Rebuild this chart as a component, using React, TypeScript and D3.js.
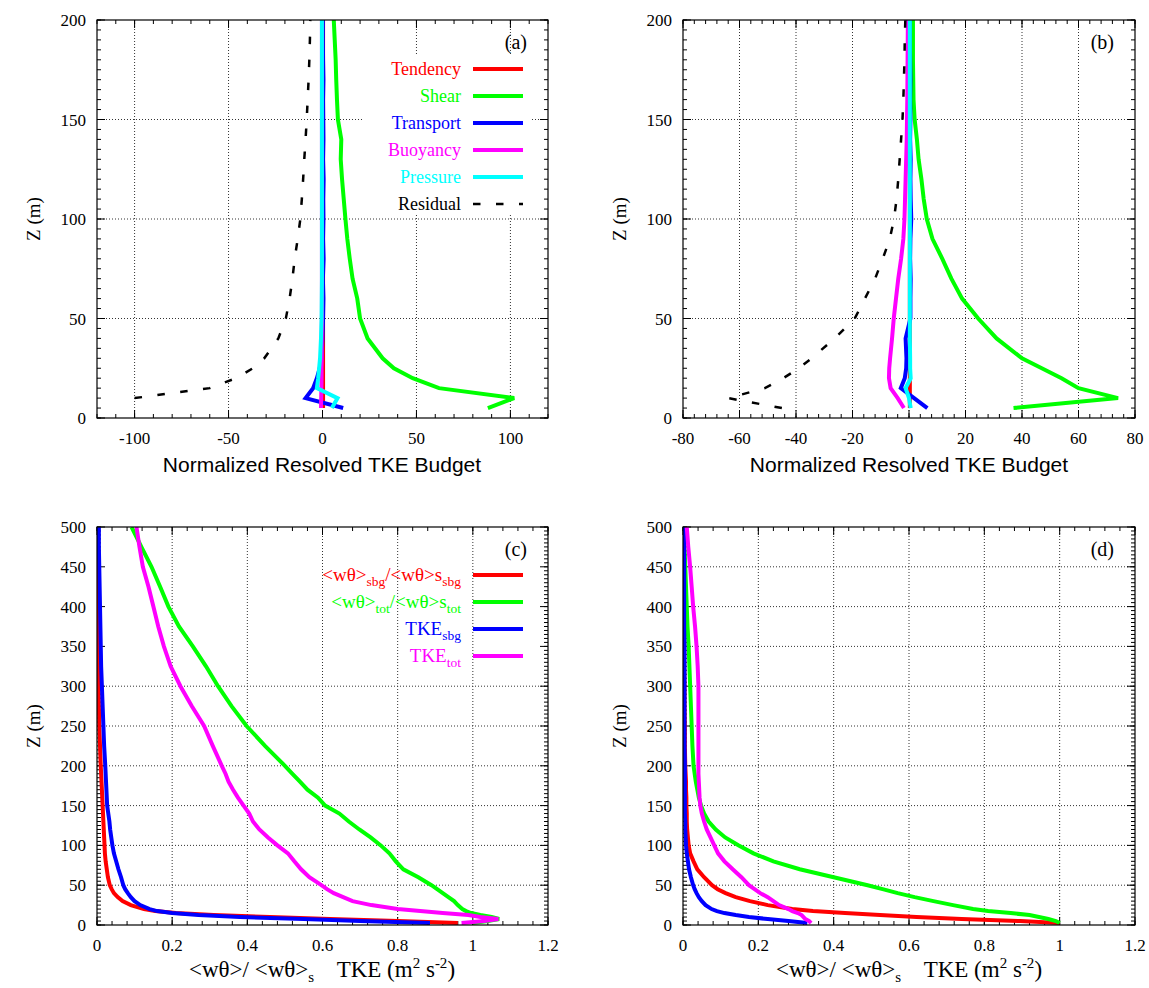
import React from 'react';
import * as d3 from 'd3';

// ---------- Panels (a) & (b): normalized resolved TKE budget ----------
const zAB = [5, 10, 15, 20, 25, 30, 40, 50, 60, 70, 80, 90, 100, 110, 120, 130, 140, 150, 160, 170, 180, 190, 200];

const tendencyA = [0.3, 0.3, 0.3, 0.3, 0.3, 0.3, 0.3, 0.3, 0.3, 0.3, 0.3, 0.3, 0.3, 0.3, 0.3, 0.3, 0.3, 0.3, 0.3, 0.3, 0.3, 0.3, 0.3];
const shearA = [88, 102, 62, 48, 38, 32, 24, 20, 18.5, 16, 14.5, 13.2, 12.2, 11.3, 10.4, 9.7, 10.0, 8.2, 7.7, 7.3, 7.0, 6.5, 6.0];
const transportA = [11, -9, -5, -3, -1.5, -0.5, 0, 0.3, 0.5, 0.2, 0.6, 0.3, 0.5, 0.4, 0.6, 0.3, 0.5, 0.4, 0.3, 0.5, 0.3, 0.2, 0.2];
const buoyancyA = [-0.8, -0.7, -0.6, -0.5, -0.5, -0.4, -0.4, -0.3, -0.3, -0.3, -0.3, -0.3, -0.3, -0.3, -0.3, -0.3, -0.3, -0.3, -0.3, -0.3, -0.3, -0.3, -0.3];
const pressureA = [5, 8, -3, -2.3, -1.8, -1.3, -0.8, -0.5, -0.4, -0.3, -0.3, -0.3, -0.3, -0.3, -0.3, -0.3, -0.3, -0.3, -0.3, -0.3, -0.3, -0.3, -0.3];
const residualA = [NaN, -100, -60, -46, -37, -31, -23.5, -19.5, -17.5, -16, -14.8, -13.2, -11.8, -11, -10.3, -9.7, -9, -8.4, -7.9, -7.4, -7, -6.7, -6.5];

const tendencyB = [0.3, 0.3, 0.3, 0.3, 0.3, 0.3, 0.3, 0.3, 0.3, 0.3, 0.3, 0.3, 0.3, 0.3, 0.3, 0.3, 0.3, 0.3, 0.3, 0.3, 0.3, 0.3, 0.3];
const shearB = [37, 74, 60, 54, 47, 40, 31, 24.5, 18.8, 15, 11.8, 8.3, 6.3, 5.2, 4.4, 3.4, 2.8, 2.0, 1.6, 1.5, 1.4, 1.4, 1.4];
const transportB = [6.5, 1.8, -2.9, -1.5, -1.0, -0.9, -1.2, 0.5, 0.5, 0.6, 0.4, 0.5, 0.8, 0.6, 0.5, 0.6, 0.4, 0.5, 0.4, 0.5, 0.4, 0.3, 0.3];
const buoyancyB = [-1.8, -4, -6.5, -7.1, -7.0, -6.7, -6.0, -5.4, -4.6, -3.8, -2.8, -2.0, -1.6, -1.4, -1.2, -1.0, -0.8, -0.7, -0.6, -0.55, -0.5, -0.45, -0.4];
const pressureB = [0.6, 0, -1.2, 0.6, 0.4, 0.4, 0.3, 0.3, 0.3, 0.3, 0.3, 0.3, 0.3, 0.3, 0.3, 0.3, 0.3, 0.3, 0.3, 0.3, 0.3, 0.3, 0.3];
const residualB = [-45, -64, -51, -44.5, -39, -34.5, -26.3, -19.2, -15.6, -12, -9.3, -6.8, -5.3, -4.4, -3.8, -3.3, -2.8, -2.3, -2.0, -1.8, -1.6, -1.5, -1.3];

// ---------- Panels (c) & (d): normalized fluxes and TKE ----------
const zCD = [2.5, 5, 7.5, 10, 12.5, 15, 17.5, 20, 25, 30, 35, 40, 45, 50, 60, 70, 80, 90, 100, 110, 120, 130, 140, 150, 160, 170, 180, 190, 200, 225, 250, 275, 300, 325, 350, 375, 400, 425, 450, 475, 500];

const wtSbgC = [0.96, 0.8, 0.62, 0.46, 0.31, 0.21, 0.155, 0.125, 0.09, 0.068, 0.055, 0.045, 0.039, 0.034, 0.029, 0.026, 0.023, 0.021, 0.02, 0.019, 0.018, 0.017, 0.016, 0.015, 0.014, 0.013, 0.012, 0.011, 0.01, 0.008, 0.006, 0.005, 0.004, 0.003, 0.003, 0.002, 0.002, 0.002, 0.001, 0.001, 0.001];
const wtTotC = [1.0, 1.04, 1.07, 1.05, 1.02, 0.995, 0.982, 0.972, 0.96, 0.95, 0.935, 0.92, 0.905, 0.89, 0.855, 0.815, 0.795, 0.778, 0.755, 0.728, 0.698, 0.67, 0.645, 0.607, 0.588, 0.56, 0.54, 0.52, 0.5, 0.447, 0.398, 0.358, 0.322, 0.29, 0.255, 0.218, 0.19, 0.168, 0.145, 0.118, 0.092];
const tkeSbgC = [0.886, 0.7, 0.55, 0.38, 0.27, 0.2, 0.16, 0.14, 0.115, 0.1, 0.09, 0.082, 0.075, 0.07, 0.064, 0.057, 0.051, 0.045, 0.041, 0.038, 0.035, 0.033, 0.03, 0.027, 0.026, 0.025, 0.024, 0.023, 0.022, 0.019, 0.017, 0.015, 0.013, 0.011, 0.01, 0.009, 0.008, 0.007, 0.006, 0.005, 0.005];
const tkeTotC = [0.97, 1.03, 1.068, 1.02, 0.988, 0.92, 0.86, 0.8, 0.73, 0.68, 0.655, 0.63, 0.612, 0.597, 0.565, 0.543, 0.525, 0.508, 0.48, 0.455, 0.432, 0.415, 0.405, 0.39, 0.375, 0.362, 0.35, 0.342, 0.332, 0.308, 0.285, 0.252, 0.222, 0.196, 0.178, 0.163, 0.15, 0.137, 0.122, 0.113, 0.105];

const wtSbgD = [1.0, 0.895, 0.74, 0.62, 0.523, 0.43, 0.345, 0.29, 0.225, 0.178, 0.14, 0.113, 0.092, 0.077, 0.056, 0.038, 0.028, 0.019, 0.015, 0.013, 0.011, 0.01, 0.01, 0.009, 0.009, 0.008, 0.008, 0.007, 0.006, 0.005, 0.005, 0.004, 0.004, 0.003, 0.003, 0.003, 0.002, 0.002, 0.002, 0.002, 0.002];
const wtTotD = [1.0, 0.99, 0.97, 0.945, 0.92, 0.87, 0.81, 0.77, 0.717, 0.665, 0.615, 0.57, 0.53, 0.49, 0.4, 0.31, 0.24, 0.187, 0.148, 0.112, 0.087, 0.068, 0.056, 0.048, 0.042, 0.038, 0.034, 0.031, 0.028, 0.025, 0.023, 0.021, 0.019, 0.017, 0.015, 0.012, 0.01, 0.008, 0.006, 0.004, 0.003];
const tkeSbgD = [0.33, 0.28, 0.225, 0.175, 0.14, 0.11, 0.09, 0.076, 0.06, 0.05, 0.042, 0.036, 0.031, 0.027, 0.021, 0.016, 0.013, 0.01, 0.008, 0.007, 0.006, 0.006, 0.005, 0.005, 0.005, 0.005, 0.005, 0.005, 0.005, 0.004, 0.004, 0.004, 0.004, 0.004, 0.004, 0.003, 0.003, 0.003, 0.003, 0.003, 0.003];
const tkeTotD = [0.34, 0.335, 0.325, 0.32, 0.315, 0.305, 0.29, 0.28, 0.255, 0.24, 0.225, 0.205, 0.19, 0.175, 0.155, 0.132, 0.11, 0.093, 0.083, 0.073, 0.063, 0.056, 0.05, 0.046, 0.044, 0.043, 0.042, 0.041, 0.041, 0.041, 0.041, 0.041, 0.041, 0.039, 0.036, 0.032, 0.027, 0.023, 0.019, 0.014, 0.01];

// ---------- ticks ----------
const ticksAX = [-100, -50, 0, 50, 100];
const ticksBX = [-80, -60, -40, -20, 0, 20, 40, 60, 80];
const ticksCDX = [0, 0.2, 0.4, 0.6, 0.8, 1, 1.2];
const ticksABY = [0, 50, 100, 150, 200];
const ticksCDY = [0, 50, 100, 150, 200, 250, 300, 350, 400, 450, 500];

const budgetNames = ['Tendency', 'Shear', 'Transport', 'Buoyancy', 'Pressure', 'Residual'];
const budgetColors = ['#ff0000', '#00ff00', '#0000ff', '#ff00ff', '#00ffff', '#000000'];
const fluxColors = ['#ff0000', '#00ff00', '#0000ff', '#ff00ff'];

const SERIF = '"Liberation Serif", "Times New Roman", serif';
const SANS = '"Liberation Sans", Arial, sans-serif';

type Series = { values: number[]; color: string; dashed?: boolean };

type PanelProps = {
  id: string;
  left: number; top: number; width: number; height: number;
  xDomain: [number, number]; yDomain: [number, number];
  xTicks: number[]; yTicks: number[];
  xMinorStep: number; yMinorStep: number;
  z: number[]; series: Series[];
  skipGridY?: number[];
  keyBox?: [number, number, number, number];
  label: string;
  fmt: (v: number) => string;
};

function Panel(p: PanelProps) {
  const x = d3.scaleLinear().domain(p.xDomain).range([p.left, p.left + p.width]);
  const y = d3.scaleLinear().domain(p.yDomain).range([p.top + p.height, p.top]);
  const bottom = p.top + p.height;
  const right = p.left + p.width;
  const xMinor = d3.range(p.xDomain[0], p.xDomain[1] + 1e-9, p.xMinorStep);
  const yMinor = d3.range(p.yDomain[0], p.yDomain[1] + 1e-9, p.yMinorStep);
  const maj = 8, mn = 4;
  const line = (vals: number[]) =>
    d3.line<number>()
      .defined((_, i) => !isNaN(vals[i]))
      .x((_, i) => x(vals[i]))
      .y((_, i) => y(p.z[i]))(p.z as any) || '';
  const grid = '#333';
  return (
    <g>
      <defs>
        <clipPath id={'clip-' + p.id}>
          <rect x={p.left} y={p.top} width={p.width} height={p.height} />
        </clipPath>
      </defs>
      {p.xTicks.filter(t => t !== p.xDomain[0] && t !== p.xDomain[1]).map(t => (
        <line key={'gx' + t} x1={x(t)} x2={x(t)} y1={p.top} y2={bottom} stroke={grid} strokeWidth={1} strokeDasharray="1,2" />
      ))}
      {p.yTicks.filter(t => t !== p.yDomain[0] && t !== p.yDomain[1] && !(p.skipGridY || []).includes(t)).map(t => (
        <line key={'gy' + t} x1={p.left} x2={right} y1={y(t)} y2={y(t)} stroke={grid} strokeWidth={1} strokeDasharray="1,2" />
      ))}
      {p.keyBox && <rect x={p.keyBox[0]} y={p.keyBox[1]} width={p.keyBox[2]} height={p.keyBox[3]} fill="#fff" />}
      {xMinor.map((t, i) => (
        <g key={'xm' + i}>
          <line x1={x(t)} x2={x(t)} y1={bottom} y2={bottom - mn} stroke="#000" />
          <line x1={x(t)} x2={x(t)} y1={p.top} y2={p.top + mn} stroke="#000" />
        </g>
      ))}
      {yMinor.map((t, i) => (
        <g key={'ym' + i}>
          <line x1={p.left} x2={p.left + mn} y1={y(t)} y2={y(t)} stroke="#000" />
          <line x1={right} x2={right - mn} y1={y(t)} y2={y(t)} stroke="#000" />
        </g>
      ))}
      {p.xTicks.map(t => (
        <g key={'xt' + t}>
          <line x1={x(t)} x2={x(t)} y1={bottom} y2={bottom - maj} stroke="#000" />
          <line x1={x(t)} x2={x(t)} y1={p.top} y2={p.top + maj} stroke="#000" />
          <text x={x(t)} y={bottom + 26} textAnchor="middle" fontFamily={SERIF} fontSize={17}>{p.fmt(t)}</text>
        </g>
      ))}
      {p.yTicks.map(t => (
        <g key={'yt' + t}>
          <line x1={p.left} x2={p.left + maj} y1={y(t)} y2={y(t)} stroke="#000" />
          <line x1={right} x2={right - maj} y1={y(t)} y2={y(t)} stroke="#000" />
          <text x={p.left - 11} y={y(t) + 6} textAnchor="end" fontFamily={SERIF} fontSize={17}>{t}</text>
        </g>
      ))}
      <g clipPath={`url(#clip-${p.id})`}>
        {p.series.map((s, i) => (
          <path key={'s' + i} d={line(s.values)} fill="none" stroke={s.color}
            strokeWidth={s.dashed ? 2.5 : 4} strokeDasharray={s.dashed ? '7.5,15.5' : undefined}
            strokeLinejoin="miter" strokeMiterlimit={3} />
        ))}
      </g>
      <rect x={p.left} y={p.top} width={p.width} height={p.height} fill="none" stroke="#000" strokeWidth={1.2} />
      <text x={right - 21} y={p.top + 29} textAnchor="end" fontFamily={SERIF} fontSize={20}>{p.label}</text>
    </g>
  );
}

export default function App() {
  const fmtInt = (v: number) => String(v);
  const fmtDec = (v: number) => (v === 0 ? '0' : v === 1 ? '1' : v.toFixed(1));
  const budgetA: Series[] = [tendencyA, shearA, transportA, buoyancyA, pressureA, residualA].map((v, i) => ({ values: v, color: budgetColors[i], dashed: i === 5 }));
  const budgetB: Series[] = [tendencyB, shearB, transportB, buoyancyB, pressureB, residualB].map((v, i) => ({ values: v, color: budgetColors[i], dashed: i === 5 }));
  const fluxC: Series[] = [wtSbgC, wtTotC, tkeSbgC, tkeTotC].map((v, i) => ({ values: v, color: fluxColors[i] }));
  const fluxD: Series[] = [wtSbgD, wtTotD, tkeSbgD, tkeTotD].map((v, i) => ({ values: v, color: fluxColors[i] }));

  const legendY = [69, 96, 123, 150, 177, 204];
  const legendCY = [575, 602, 629, 656];
  const subSize = 13.5;

  const xTitleCD = (cx: number) => (
    <text x={cx} y={977} textAnchor="middle" fontFamily={SERIF} fontSize={23} style={{ whiteSpace: 'pre' }}>
      {'<wθ>/ <wθ>'}
      <tspan fontSize={15} dy={5}>s</tspan>
      <tspan dy={-5}>{'    TKE (m'}</tspan>
      <tspan fontSize={15} dy={-9}>2</tspan>
      <tspan dy={9}> s</tspan>
      <tspan fontSize={15} dy={-9}>-2</tspan>
      <tspan dy={9}>)</tspan>
    </text>
  );

  return (
    <svg width={1149} height={988} style={{ position: 'absolute', left: 0, top: 0, background: '#fff' }}>
      <rect x={0} y={0} width={1149} height={988} fill="#fff" />
      <Panel id="a" left={97} top={20} width={451} height={398} xDomain={[-120, 120]} yDomain={[0, 200]}
        xTicks={ticksAX} yTicks={ticksABY} xMinorStep={10} yMinorStep={5} z={zAB} series={budgetA}
        keyBox={[362, 55, 168, 159]} label="(a)" fmt={fmtInt} />
      <Panel id="b" left={683} top={20} width={452} height={398} xDomain={[-80, 80]} yDomain={[0, 200]}
        xTicks={ticksBX} yTicks={ticksABY} xMinorStep={4} yMinorStep={5} z={zAB} series={budgetB}
        label="(b)" fmt={fmtInt} />
      <Panel id="c" left={97} top={527} width={451} height={398} xDomain={[0, 1.2]} yDomain={[0, 500]}
        xTicks={ticksCDX} yTicks={ticksCDY} xMinorStep={0.04} yMinorStep={5} z={zCD} series={fluxC}
        skipGridY={[350, 400, 450]} label="(c)" fmt={fmtDec} />
      <Panel id="d" left={683} top={527} width={452} height={398} xDomain={[0, 1.2]} yDomain={[0, 500]}
        xTicks={ticksCDX} yTicks={ticksCDY} xMinorStep={0.04} yMinorStep={5} z={zCD} series={fluxD}
        label="(d)" fmt={fmtDec} />

      {budgetNames.map((n, i) => (
        <g key={'la' + n}>
          <text x={461} y={legendY[i] + 6} textAnchor="end" fontFamily={SERIF} fontSize={18} fill={i === 5 ? '#000' : budgetColors[i]}>{n}</text>
          <line x1={473} x2={523} y1={legendY[i]} y2={legendY[i]} stroke={budgetColors[i]}
            strokeWidth={i === 5 ? 2.5 : 4} strokeDasharray={i === 5 ? '7.5,15.5' : undefined} />
        </g>
      ))}

      <g fontFamily={SERIF} fontSize={19} textAnchor="end">
        <text x={461} y={legendCY[0] + 6} fill={fluxColors[0]}>
          {'<wθ>'}<tspan fontSize={subSize} dy={5}>sbg</tspan><tspan dy={-5}>{'/<wθ>s'}</tspan><tspan fontSize={subSize} dy={5}>sbg</tspan>
        </text>
        <text x={461} y={legendCY[1] + 6} fill={fluxColors[1]}>
          {'<wθ>'}<tspan fontSize={subSize} dy={5}>tot</tspan><tspan dy={-5}>{'/<wθ>s'}</tspan><tspan fontSize={subSize} dy={5}>tot</tspan>
        </text>
        <text x={461} y={legendCY[2] + 6} fill={fluxColors[2]}>
          {'TKE'}<tspan fontSize={subSize} dy={5}>sbg</tspan>
        </text>
        <text x={461} y={legendCY[3] + 6} fill={fluxColors[3]}>
          {'TKE'}<tspan fontSize={subSize} dy={5}>tot</tspan>
        </text>
      </g>
      {fluxColors.map((c, i) => (
        <line key={'lc' + i} x1={473} x2={523} y1={legendCY[i]} y2={legendCY[i]} stroke={c} strokeWidth={4} />
      ))}

      <text x={322} y={472} textAnchor="middle" fontFamily={SANS} fontSize={21}>Normalized Resolved TKE Budget</text>
      <text x={909} y={472} textAnchor="middle" fontFamily={SANS} fontSize={21}>Normalized Resolved TKE Budget</text>
      {xTitleCD(322)}
      {xTitleCD(909)}
      {[[34, 219], [620, 219], [34, 726], [620, 726]].map(([cx, cy], i) => (
        <text key={'yt' + i} x={cx} y={cy} transform={`rotate(-90 ${cx} ${cy})`} textAnchor="middle" dy={6}
          fontFamily={SERIF} fontSize={19}>Z (m)</text>
      ))}
    </svg>
  );
}
